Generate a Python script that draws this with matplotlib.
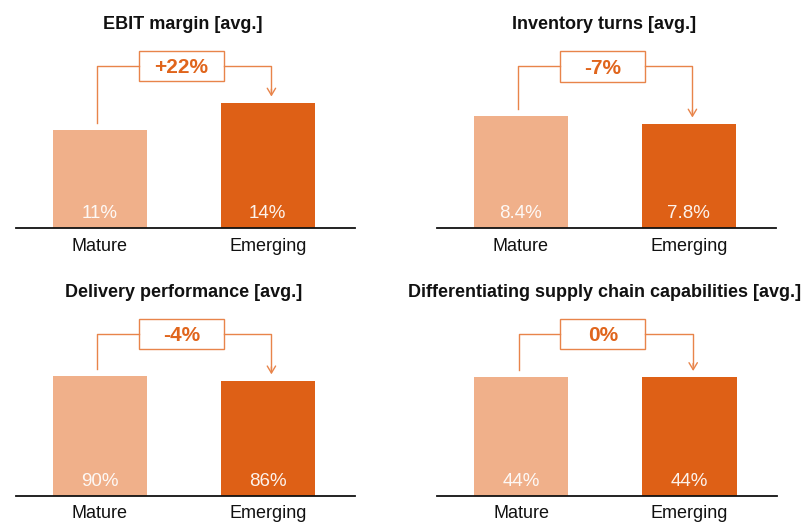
import matplotlib.pyplot as plt
from matplotlib.patches import Rectangle

plt.rcParams["font.family"] = ["Liberation Sans", "DejaVu Sans"]

titles = [
    "EBIT margin [avg.]",
    "Inventory turns [avg.]",
    "Delivery performance [avg.]",
    "Differentiating supply chain capabilities [avg.]",
]
categories = ["Mature", "Emerging"]
mature = [11, 8.4, 90, 44]
emerging = [14, 7.8, 86, 44]
changes = ["+22%", "-7%", "-4%", "0%"]

light = "#F0B08A"
dark = "#DE6016"
line_col = "#E8844A"

W, H = 808, 524
# axes boxes in pixels: left, top, right, bottom (bottom = baseline)
boxes = [(16, 40, 355, 228), (437, 40, 776, 228),
         (16, 307.5, 355, 495.5), (437, 307.5, 777, 495.5)]
# data value at top of each axes (sets bar scaling)
y_top = [21.06, 14.1, 141.0, 70.1]

fig = plt.figure(figsize=(W / 100, H / 100), dpi=100)

for i in range(4):
    l, t, r, b = boxes[i]
    ax = fig.add_axes([l / W, (H - b) / H, (r - l) / W, (b - t) / H])
    hpx = b - t
    ymax = y_top[i]
    px = ymax / hpx  # data units per pixel

    vals = [mature[i], emerging[i]]
    ax.bar([0, 1], vals, width=0.56, color=[light, dark])
    ax.set_xlim(-0.5, 1.52)
    ax.set_ylim(0, ymax)

    for sp in ["top", "right", "left"]:
        ax.spines[sp].set_visible(False)
    ax.spines["bottom"].set_linewidth(1.3)
    ax.spines["bottom"].set_color("#111111")
    ax.set_yticks([])
    ax.set_xticks([0, 1])
    ax.set_xticklabels(categories, fontsize=13, color="#111111")
    ax.tick_params(axis="x", length=0, pad=7)

    for x, v in zip([0, 1], vals):
        ax.text(x, 14.5 * px, f"{v:g}%", ha="center", va="center",
                fontsize=13.5, color="white", alpha=0.92)

    ax.text(0.493, 1 + 15 / hpx, titles[i], transform=ax.transAxes,
            ha="center", va="center", fontsize=13, fontweight="bold",
            color="#111111")

    # bracket with change label
    level = 161.5 * px
    xl, xr = -0.015, 1.022
    bx0, bx1 = 0.232, 0.738
    bh = 15 * px
    ax.plot([xl, xl, bx0], [vals[0] + 7 * px, level, level],
            color=line_col, lw=1.0, clip_on=False)
    ax.plot([bx1, xr, xr], [level, level, vals[1] + 12 * px],
            color=line_col, lw=1.0, clip_on=False)
    ax.annotate("", xy=(xr, vals[1] + 6.5 * px), xytext=(xr, vals[1] + 14 * px),
                arrowprops=dict(arrowstyle="->,head_length=0.5,head_width=0.3",
                                color=line_col, lw=1.0, shrinkA=0, shrinkB=0,
                                mutation_scale=10),
                annotation_clip=False)
    ax.add_patch(Rectangle((bx0, level - bh), bx1 - bx0, 2 * bh,
                           facecolor="white", edgecolor=line_col, lw=1.0,
                           clip_on=False))
    ax.text((bx0 + bx1) / 2, level - 1.5 * px, changes[i], ha="center",
            va="center", fontsize=15, fontweight="bold", color="#E0651C")

fig.savefig("out.png", dpi=100)
